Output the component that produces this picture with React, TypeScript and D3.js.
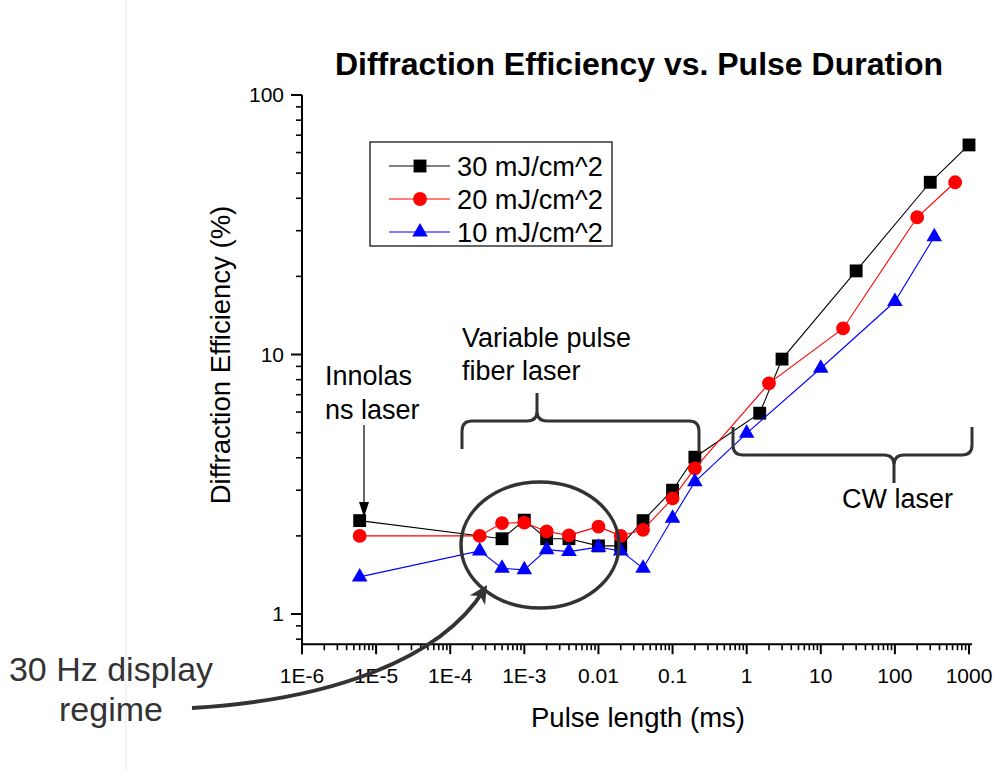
import React from "react";
import * as d3 from "d3";

const xTickValues = [1e-6, 1e-5, 1e-4, 1e-3, 1e-2, 1e-1, 1, 10, 100, 1000];
const xTickLabels = ["1E-6", "1E-5", "1E-4", "1E-3", "0.01", "0.1", "1", "10", "100", "1000"];
const yTickValues = [1, 10, 100];
const yTickLabels = ["1", "10", "100"];

const blackX = [6e-6, 5e-4, 1e-3, 2e-3, 4e-3, 1e-2, 2e-2, 4e-2, 0.1, 0.2, 1.5, 3, 30, 300, 1000];
const blackY = [2.29, 1.95, 2.3, 1.95, 1.95, 1.83, 1.83, 2.29, 3.0, 4.02, 5.94, 9.6, 21.0, 46.1, 64.2];
const redX = [6e-6, 2.5e-4, 5e-4, 1e-3, 2e-3, 4e-3, 1e-2, 2e-2, 4e-2, 0.1, 0.2, 2, 20, 200, 650];
const redY = [2.0, 2.0, 2.24, 2.25, 2.08, 2.01, 2.17, 2.0, 2.11, 2.79, 3.64, 7.74, 12.6, 33.8, 46.1];
const blueX = [6e-6, 2.5e-4, 5e-4, 1e-3, 2e-3, 4e-3, 1e-2, 2e-2, 4e-2, 0.1, 0.2, 1, 10, 100, 340];
const blueY = [1.39, 1.75, 1.5, 1.48, 1.77, 1.74, 1.81, 1.75, 1.5, 2.34, 3.23, 4.97, 8.85, 16.0, 28.4];

const seriesNames = ["30 mJ/cm^2", "20 mJ/cm^2", "10 mJ/cm^2"];
const seriesColors = ["#000000", "#ff0000", "#0000ff"];

const FONT = "'Liberation Sans', Arial, sans-serif";

export default function App() {
  const x = d3.scaleLog().domain([1e-6, 1000]).range([302, 969]);
  const y = d3.scaleLog().domain([1, 100]).range([614, 95]);
  const yMin = 0.765;

  const series = [
    { xs: blackX, ys: blackY, sym: d3.symbolSquare, size: 165 },
    { xs: redX, ys: redY, sym: d3.symbolCircle, size: 150 },
    { xs: blueX, ys: blueY, sym: d3.symbolTriangle, size: 105 },
  ];

  const line = d3
    .line<[number, number]>()
    .x((d) => x(d[0]))
    .y((d) => y(d[1]));

  const xMinor: number[] = [];
  for (let e = -6; e < 3; e++) for (let k = 2; k <= 9; k++) xMinor.push(k * Math.pow(10, e));
  const yMinor: number[] = [];
  for (let e = -1; e < 2; e++)
    for (let k = 2; k <= 9; k++) {
      const v = k * Math.pow(10, e);
      if (v >= yMin && v < 100) yMinor.push(v);
    }

  const axisY0 = y(yMin);
  const arrowPath = "M192,708 C330,700 440,660 484,590";
  const endAngle = Math.atan2(590 - 660, 484 - 440);

  return (
    <svg
      width={995}
      height={770}
      style={{ position: "absolute", left: 0, top: 0, background: "#fff" }}
      fontFamily={FONT}
    >
      <rect x={0} y={0} width={995} height={770} fill="#fff" />
      <line x1={126} x2={126} y1={0} y2={770} stroke="#e6e6e6" strokeWidth={1} />

      <text x={639} y={75} textAnchor="middle" fontSize={32} fontWeight="bold" fill="#000">
        Diffraction Efficiency vs. Pulse Duration
      </text>

      {/* axes */}
      <line x1={302} x2={302} y1={95} y2={axisY0 + 1} stroke="#000" strokeWidth={2} />
      <line x1={301} x2={972} y1={axisY0} y2={axisY0} stroke="#000" strokeWidth={2} />
      {yTickValues.map((v, i) => (
        <g key={"yt" + i}>
          <line x1={291} x2={302} y1={y(v)} y2={y(v)} stroke="#000" strokeWidth={2} />
          <text x={284} y={y(v) + 7} textAnchor="end" fontSize={21}>
            {yTickLabels[i]}
          </text>
        </g>
      ))}
      {yMinor.map((v, i) => (
        <line key={"ym" + i} x1={296} x2={302} y1={y(v)} y2={y(v)} stroke="#000" strokeWidth={1.6} />
      ))}
      {xTickValues.map((v, i) => (
        <g key={"xt" + i}>
          <line x1={x(v)} x2={x(v)} y1={axisY0} y2={axisY0 + 10} stroke="#000" strokeWidth={2} />
          <text x={x(v)} y={axisY0 + 39} textAnchor="middle" fontSize={21}>
            {xTickLabels[i]}
          </text>
        </g>
      ))}
      {xMinor.map((v, i) => (
        <line key={"xm" + i} x1={x(v)} x2={x(v)} y1={axisY0} y2={axisY0 + 6} stroke="#000" strokeWidth={1.6} />
      ))}

      <text x={638} y={727} textAnchor="middle" fontSize={27.5}>
        Pulse length (ms)
      </text>
      <text transform="translate(230,355) rotate(-90)" textAnchor="middle" fontSize={27.5}>
        Diffraction Efficiency (%)
      </text>

      {/* series */}
      {series.map((s, si) => {
        const pts = s.xs.map((v, i) => [v, s.ys[i]] as [number, number]);
        const sym = d3.symbol().type(s.sym).size(s.size)();
        return (
          <g key={"s" + si}>
            <path d={line(pts) || ""} fill="none" stroke={seriesColors[si]} strokeWidth={1.1} />
            {pts.map((p, i) => (
              <path key={i} d={sym || ""} transform={`translate(${x(p[0])},${y(p[1])})`} fill={seriesColors[si]} />
            ))}
          </g>
        );
      })}

      {/* legend */}
      <rect x={370} y={142} width={242} height={104} fill="#fff" stroke="#000" strokeWidth={1.2} />
      {series.map((s, si) => {
        const ly = 166 + si * 33;
        const sym = d3.symbol().type(s.sym).size(s.size)();
        return (
          <g key={"lg" + si}>
            <line x1={389} x2={450} y1={ly} y2={ly} stroke={seriesColors[si]} strokeWidth={1.1} />
            <path d={sym || ""} transform={`translate(420,${ly})`} fill={seriesColors[si]} />
            <text x={457} y={ly + 10} fontSize={27} textLength={146} lengthAdjust="spacingAndGlyphs">
              {seriesNames[si]}
            </text>
          </g>
        );
      })}

      {/* annotations */}
      <text x={325} y={385} fontSize={27}>Innolas</text>
      <text x={325} y={419} fontSize={27}>ns laser</text>
      <line x1={364} x2={364} y1={425} y2={505} stroke="#000" strokeWidth={1.2} />
      <path d="M359,502 L364,517 L369,502 Z" fill="#000" />

      <text x={462} y={347} fontSize={27}>Variable pulse</text>
      <text x={462} y={380} fontSize={27}>fiber laser</text>
      <path
        d="M462,449 L462,431 Q462,421 472,421 L527,421 Q537,421 537,411 L537,393 M537,411 Q537,421 547,421 L689,421 Q699,421 699,431 L699,452"
        fill="none"
        stroke="#333"
        strokeWidth={3}
      />

      <path
        d="M733,427 L733,445 Q733,455 743,455 L884,455 Q894,455 894,465 L894,483 M894,465 Q894,455 904,455 L962,455 Q972,455 972,445 L972,427"
        fill="none"
        stroke="#333"
        strokeWidth={3}
      />
      <text x={842} y={508} fontSize={27}>CW laser</text>

      <ellipse cx={540} cy={545} rx={79} ry={63} fill="none" stroke="#333" strokeWidth={3.5} />

      <path d={arrowPath} fill="none" stroke="#333" strokeWidth={4} />
      <path
        d="M0,0 L-18,-9 L-13,0 L-18,9 Z"
        transform={`translate(487,585) rotate(${(endAngle * 180) / Math.PI})`}
        fill="#333"
      />

      <text x={111} y={681} textAnchor="middle" fontSize={34} fill="#333">
        30 Hz display
      </text>
      <text x={111} y={721} textAnchor="middle" fontSize={34} fill="#333">
        regime
      </text>
    </svg>
  );
}
